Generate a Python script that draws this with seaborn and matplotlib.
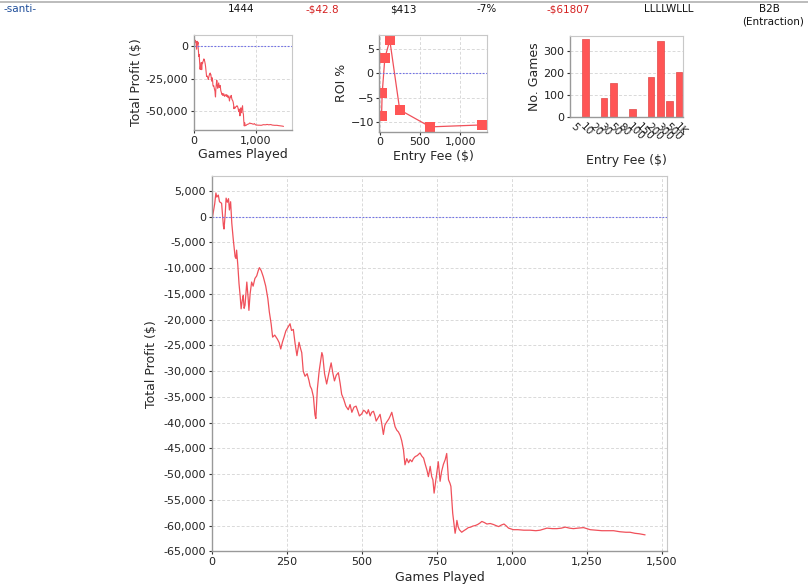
import matplotlib
matplotlib.use("Agg")
import matplotlib.pyplot as plt
from matplotlib.ticker import FuncFormatter, MultipleLocator
import seaborn as sns
import pandas as pd

# ---------------- data ----------------
games = [0, 5, 10, 14, 17, 22, 26, 33, 39, 41, 45, 48, 52, 56, 59, 63, 67, 72, 78, 81,
         83, 87, 91, 95, 98, 102, 105, 108, 111, 114, 117, 121, 124, 128, 133, 138, 144,
         150, 155, 159, 165, 172, 180, 187, 192, 198, 203, 210, 219, 225, 230, 236, 241,
         247, 254, 261, 266, 272, 278, 284, 291, 296, 300, 305, 311, 318, 324, 328, 333,
         339, 344, 347, 352, 358, 364, 367, 370, 376, 383, 390, 398, 404, 409, 415, 422,
         428, 433, 440, 447, 455, 461, 467, 474, 481, 487, 492, 500, 506, 511, 517, 522,
         528, 533, 539, 544, 548, 555, 561, 566, 572, 577, 583, 590, 595, 600, 606, 611,
         617, 622, 628, 633, 639, 644, 650, 656, 661, 667, 672, 678, 685, 694, 700, 706,
         711, 717, 722, 728, 733, 737, 741, 746, 750, 755, 761, 766, 772, 778, 783, 789,
         794, 797, 803, 807, 811, 814, 817, 821, 825, 833, 840, 848, 855, 863, 870, 878,
         886, 894, 900, 908, 917, 928, 939, 947, 956, 965, 974, 982, 989, 1005, 1020,
         1040, 1061, 1080, 1094, 1105, 1117, 1135, 1150, 1165, 1178, 1192, 1205, 1220,
         1239, 1250, 1261, 1280, 1300, 1320, 1339, 1360, 1380, 1394, 1410, 1425, 1444]
profit = [-1000, 800, 2500, 4600, 3800, 4200, 2900, 2600, -1800, -2400, 500, 3600, 2800,
          3500, 1300, 2900, -1300, -4500, -7800, -8100, -6500, -9400, -13000, -15500,
          -17900, -16200, -15300, -17800, -17200, -15000, -12700, -15500, -18200, -15000,
          -12700, -13500, -12000, -11500, -10500, -9900, -10500, -11700, -13500, -15900,
          -18500, -20800, -23400, -23000, -23800, -24500, -25700, -24300, -23400, -22200,
          -21500, -20800, -22100, -21900, -24700, -27000, -24400, -25600, -26400, -30000,
          -31000, -30500, -31800, -32900, -33500, -35000, -38500, -39200, -33500, -30000,
          -27500, -26400, -27000, -30500, -32500, -30500, -28400, -30500, -31900, -30800,
          -30300, -32400, -34500, -35500, -36800, -37500, -36500, -38000, -37000, -36800,
          -37800, -38700, -38300, -37600, -37800, -38300, -37500, -38700, -38000, -37800,
          -38700, -39700, -39000, -38400, -40000, -42300, -40500, -39900, -39300, -38700,
          -38000, -39500, -40800, -41500, -41800, -42500, -43500, -45300, -48200, -47000,
          -47800, -47200, -47600, -47000, -46600, -46400, -45900, -46500, -46900, -48000,
          -49200, -50500, -48500, -50500, -51100, -53700, -51500, -49800, -47600, -51400,
          -49500, -48100, -47200, -46000, -51100, -51800, -52400, -57600, -59500, -61500,
          -60500, -59000, -60200, -60800, -61300, -61000, -60700, -60400, -60300, -60100,
          -60000, -59800, -59500, -59200, -59400, -59700, -59600, -59800, -60000, -60200,
          -59900, -59700, -60100, -60500, -60800, -60800, -60900, -60900, -61000, -60900,
          -60700, -60500, -60600, -60600, -60500, -60300, -60500, -60600, -60500, -60400,
          -60600, -60800, -60900, -61000, -61000, -61000, -61200, -61300, -61300, -61500,
          -61600, -61807]

roi_fee = [19, 27, 60, 122, 246, 627, 1270]
roi_pct = [-8.7, -4.1, 3.1, 6.8, -7.5, -11.0, -10.6]

fee_labels = ["5", "10", "20", "30", "50", "80", "100", "150", "200", "300", "500", "1K"]
fee_games = [3, 354, 3, 89, 155, 3, 36, 3, 185, 345, 75, 205]

header_texts = ["-santi-", "1444", "-$42.8", "$413", "-7%", "-$61807", "LLLLWLLL", "B2B"]
header_sub = "(Entraction)"

# ---------------- style ----------------
sns.set_theme(style="white")
plt.rcParams["font.family"] = ["DejaVu Sans"]

RED = "#F0505A"
BAR = "#FF5555"
GRID = "#D9D9D9"
ZERO = "#6F6FE8"
SPINE = "#999999"

df_main = pd.DataFrame({"Games Played": games, "Total Profit ($)": profit})
df_roi = pd.DataFrame({"fee": roi_fee, "roi": roi_pct})
df_bar = pd.DataFrame({"fee": fee_labels, "n": fee_games})

fig = plt.figure(figsize=(8.08, 5.84), dpi=100)

comma = FuncFormatter(lambda v, p: f"{v:,.0f}")
ZSTYLE = dict(color=ZERO, linestyle=(0, (1.5, 1.5)), linewidth=0.8)


def style_axes(ax, fs=8):
    for s in ["top", "right"]:
        ax.spines[s].set_color("#C8C8C8")
        ax.spines[s].set_linewidth(0.8)
    for s in ["left", "bottom"]:
        ax.spines[s].set_color(SPINE)
        ax.spines[s].set_linewidth(1.0)
    ax.grid(True, color=GRID, linestyle=(0, (3, 2)), linewidth=0.7)
    ax.set_axisbelow(True)
    ax.tick_params(axis="both", labelsize=fs, colors="#333333", length=2,
                   width=0.8, pad=2, left=True, bottom=True)
    for lbl in ax.get_xticklabels() + ax.get_yticklabels():
        lbl.set_color("#222222")


# ---- header ----
fig.add_artist(plt.Line2D([0, 1], [1 - 1.5 / 584, 1 - 1.5 / 584], color="#B0B0B0",
                          linewidth=1.2, transform=fig.transFigure))
hx = [3, 241, 322, 403, 487, 568, 669, 769]
hcol = ["#1F4E9A", "#111111", "#D42020", "#111111", "#111111", "#D42020", "#111111", "#111111"]
for i, t in enumerate(header_texts):
    ha = "left" if i == 0 else "center"
    fig.text(hx[i] / 808, 1 - 9 / 584, t, ha=ha, va="center", fontsize=7.5, color=hcol[i])
fig.text(773 / 808, 1 - 22 / 584, header_sub, ha="center", va="center", fontsize=7.5,
         color="#111111")

# ---- mini profit chart ----
ax1 = fig.add_axes([194 / 808, 1 - 130 / 584, 97.7 / 808, 95 / 584])
sns.lineplot(data=df_main, x="Games Played", y="Total Profit ($)", ax=ax1,
             color=RED, linewidth=0.8)
ax1.axhline(0, **ZSTYLE)
ax1.set_xlim(0, 1576)
ax1.set_ylim(-64600, 8460)
ax1.xaxis.set_major_locator(MultipleLocator(1000))
ax1.yaxis.set_major_locator(MultipleLocator(25000))
ax1.xaxis.set_major_formatter(comma)
ax1.yaxis.set_major_formatter(comma)
style_axes(ax1)
ax1.set_xlabel("Games Played", fontsize=9, labelpad=2)
ax1.set_ylabel("Total Profit ($)", fontsize=9, labelpad=2)

# ---- mini ROI chart ----
ax2 = fig.add_axes([379.3 / 808, 1 - 131.7 / 584, 107.4 / 808, 96.7 / 584])
sns.lineplot(data=df_roi, x="fee", y="roi", ax=ax2, color=RED, linewidth=0.9,
             marker="s", markersize=6.5, markeredgewidth=0, markerfacecolor=BAR)
ax2.axhline(0, **ZSTYLE)
ax2.set_xlim(-9, 1332)
ax2.set_ylim(-11.99, 7.86)
ax2.xaxis.set_major_locator(MultipleLocator(500))
ax2.yaxis.set_major_locator(MultipleLocator(5))
ax2.xaxis.set_major_formatter(comma)
style_axes(ax2)
ax2.set_xlabel("Entry Fee ($)", fontsize=9, labelpad=2)
ax2.set_ylabel("ROI %", fontsize=9, labelpad=2)

# ---- mini bar chart ----
ax3 = fig.add_axes([570 / 808, 1 - 117.3 / 584, 113.3 / 808, 81.3 / 584])
sns.barplot(data=df_bar, x="fee", y="n", ax=ax3, color=BAR, saturation=1,
            width=0.7, edgecolor="#E04848", linewidth=0.5, order=fee_labels)
ax3.set_xlim(-0.65, 11.45)
ax3.set_ylim(0, 369)
ax3.yaxis.set_major_locator(MultipleLocator(100))
style_axes(ax3)
ax3.grid(False, axis="x")
ax3.set_xticks(range(len(fee_labels)))
ax3.set_xticklabels(fee_labels, rotation=-45, ha="left", rotation_mode="anchor",
                    fontsize=7.5)
ax3.tick_params(axis="x", length=0, pad=3)
ax3.set_xlabel("Entry Fee ($)", fontsize=9, labelpad=8)
ax3.set_ylabel("No. Games", fontsize=9, labelpad=2)

# ---- main chart ----
ax = fig.add_axes([211.7 / 808, 1 - 551.3 / 584, 455.6 / 808, 375.3 / 584])
sns.lineplot(data=df_main, x="Games Played", y="Total Profit ($)", ax=ax,
             color=RED, linewidth=0.9)
ax.axhline(0, **ZSTYLE)
ax.set_xlim(0, 1518)
ax.set_ylim(-65000, 7900)
ax.xaxis.set_major_locator(MultipleLocator(250))
ax.yaxis.set_major_locator(MultipleLocator(5000))
ax.xaxis.set_major_formatter(comma)
ax.yaxis.set_major_formatter(comma)
style_axes(ax)
ax.set_xlabel("Games Played", fontsize=9, labelpad=3)
ax.set_ylabel("Total Profit ($)", fontsize=9, labelpad=4)

fig.savefig("out.png", dpi=100)
